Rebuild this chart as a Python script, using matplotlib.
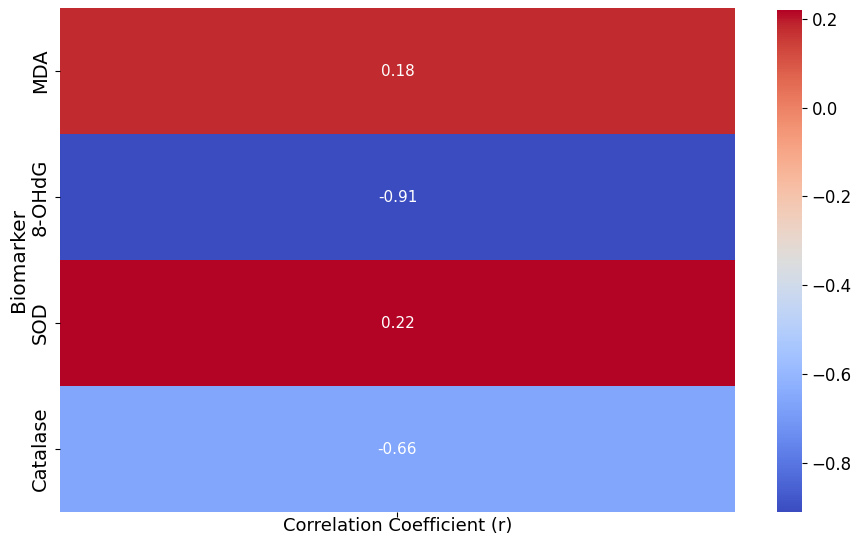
import matplotlib
matplotlib.use("Agg")
import matplotlib.pyplot as plt
import numpy as np
import seaborn as sns

biomarkers = ["MDA", "8-OHdG", "SOD", "Catalase"]
correlations = [0.18, -0.91, 0.22, -0.66]

data = np.array(correlations).reshape(-1, 1)

fig = plt.figure(figsize=(8.53, 5.38), dpi=100)
ax = fig.add_axes([0.070, 0.048, 0.792, 0.937])
cax = fig.add_axes([0.911, 0.048, 0.029, 0.934])
sns.heatmap(data, annot=True, fmt=".2f", cmap="coolwarm", ax=ax, cbar_ax=cax,
            xticklabels=[""], yticklabels=biomarkers, annot_kws={"fontsize": 11})
ax.set_xlabel("Correlation Coefficient (r)", fontsize=13, labelpad=0)
ax.set_ylabel("Biomarker", fontsize=14.5, labelpad=2)
ax.tick_params(axis="y", labelsize=14)
ax.tick_params(axis="x", pad=0)
cax.tick_params(labelsize=12)

fig.savefig("out.png", dpi=100)
